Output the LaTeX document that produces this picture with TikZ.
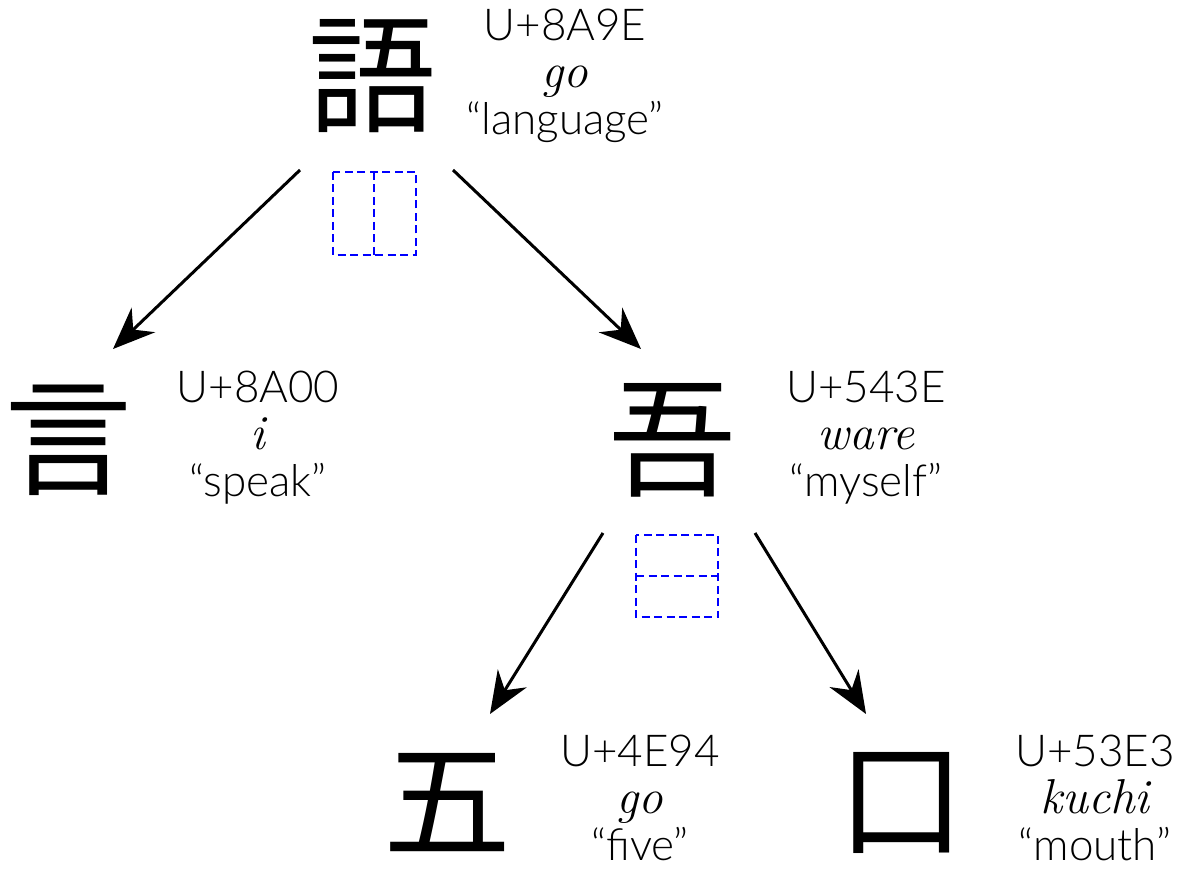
\documentclass[tikz,border=0pt]{standalone}
\usepackage{fontspec}
\setmainfont{Lato}[UprightFont=* Light]
\newfontfamily\cjk{Noto Sans CJK JP}
\newfontfamily\lmit{Latin Modern Roman}
\usetikzlibrary{arrows.meta}
\tikzset{
  kanji/.style={inner sep=0pt, font=\cjk\fontsize{128}{128}\selectfont},
  info/.style={inner sep=0pt, align=center, font=\fontsize{44}{47}\selectfont},
  arr/.style={line width=3pt, -{Stealth[length=42pt, width=34pt, inset=14pt]}},
  split/.style={draw=blue, line width=2.4pt, dash pattern=on 8pt off 4.5pt},
}
\newcommand{\rd}[1]{{\lmit\itshape\fontsize{49}{47}\selectfont #1}}
\begin{document}
\begin{tikzpicture}[x=1pt, y=-1pt]
\useasboundingbox (0,0) rectangle (1184,869);
% nodes
\node[kanji] (go) at (372,76) {語};
\node[info] (goT) at (565,76) {U+8A9E\\\rd{go}\\“language”};
\node[kanji] (gen) at (69,440) {言};
\node[info] (genT) at (258,438) {U+8A00\\\rd{i}\\“speak”};
\node[kanji] (ware) at (672,440) {吾};
\node[info] (wareT) at (866,438) {U+543E\\\rd{ware}\\“myself”};
\node[kanji] (five) at (447,803) {五};
\node[info] (fiveT) at (640,798) {U+4E94\\\rd{go}\\“five”};
\node[kanji] (kuchi) at (901,803) {口};
\node[info] (kuchiT) at (1095,798) {U+53E3\\\rd{kuchi}\\“mouth”};
% split indicators
\draw[split] (333,172) rectangle (416,255);
\draw[split] (374,172) -- (374,255);
\draw[split] (636,535) rectangle (718,617);
\draw[split] (636,576) -- (718,576);
% connector ends
\coordinate (a1s) at (300,170); \coordinate (a1e) at (113,349);
\coordinate (a2s) at (453,170); \coordinate (a2e) at (641,349);
\coordinate (a3s) at (603,533); \coordinate (a3e) at (490,714);
\coordinate (a4s) at (755,533); \coordinate (a4e) at (866,714);
\draw[arr] (a1s) -- (a1e);
\draw[arr] (a2s) -- (a2e);
\draw[arr] (a3s) -- (a3e);
\draw[arr] (a4s) -- (a4e);
\end{tikzpicture}
\end{document}
